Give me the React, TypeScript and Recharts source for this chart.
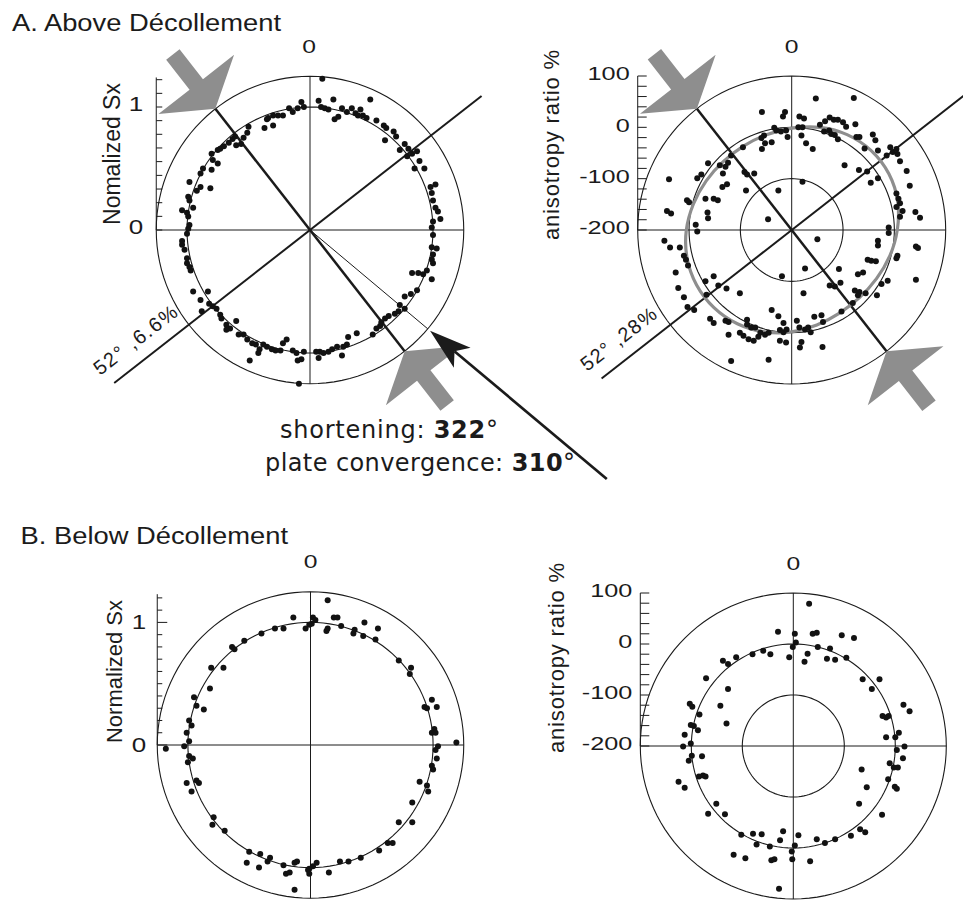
import React from 'react';
import { ScatterChart, Scatter, XAxis, YAxis, ReferenceLine } from 'recharts';

type P = [number, number];

// Above décollement, normalized Sx: [east, north] components in % of normalized Sx
const aboveSxPts: P[] = [
  [10,123],[-7,104],[-5,100],[-10,99],[-17,99],[-14,96],[-22,93],[-26,93],[-30,93],[-34,91],[-35,90],[-30,85],[-37,83],[-50,84],
  [7,105],[9,100],[12,99],[15,98],[19,106],[20,90],[23,92],[26,99],[30,96],[34,99],[37,95],[41,98],[43,93],[46,91],[49,106],[39,93],
  [54,89],[60,85],[62,83],[61,73],[68,80],[70,76],[77,70],[80,66],[73,65],[83,62],[79,60],[87,64],[89,56],[85,50],[93,50],
  [98,35],[102,37],[99,30],[100,24],[102,18],[104,15],[106,9],[100,7],[99,2],[100,-4],[99,-14],[103,-15],[100,-20],[99,-24],[100,-27],[95,-33],[92,-36],[88,-35],[83,-35],[99,-40],
  [87,-49],[82,-52],[77,-54],[73,-61],[77,-64],[72,-66],[69,-68],[64,-70],[61,-72],[58,-75],[57,-78],[54,-80],[51,-85],[38,-84],[31,-87],[30,-93],[27,-95],[26,-102],[22,-95],[18,-97],[15,-99],[11,-100],[8,-99],[5,-99],[7,-104],
  [-5,-99],[-7,-105],[-11,-100],[-14,-98],[-10,-106],[-9,-125],[-19,-89],[-22,-92],[-24,-98],[-28,-98],[-31,-97],[-35,-95],[-38,-93],[-41,-97],[-42,-100],[-44,-93],[-47,-92],[-49,-106],[-51,-89],[-54,-85],[-58,-85],[-60,-74],[-65,-80],[-68,-81],[-68,-77],[-72,-72],[-73,-69],[-76,-64],[-79,-62],[-82,-60],[-83,-50],[-88,-66],[-89,-57],[-95,-50],
  [-97,-33],[-98,-30],[-100,-27],[-100,-23],[-102,-16],[-104,-12],[-104,-9],[-100,-3],[-99,1],[-98,4],[-99,11],[-100,14],[-104,16],[-95,18],[-98,24],[-99,27],[-98,39],[-92,32],[-89,35],[-81,34],[-89,46],[-87,50],[-80,49],[-79,57],[-75,54],[-80,62],[-75,65],[-73,66],[-70,68],[-66,71],[-63,74],[-61,76],[-60,69],[-56,70],[-54,75],[-51,79],
];

// Above décollement, anisotropy: [east, north] components of (ratio % + 200)
const aboveAniPts: P[] = [
  [47,256],[121,257],[-58,230],[-13,230],[-17,221],[15,221],[24,217],[74,219],[55,205],[65,212],[82,215],[90,215],[100,210],[106,201],[124,206],[-34,199],[-30,194],[-21,192],[-11,194],[13,200],[21,200],[63,192],[73,194],[77,187],[84,185],[19,184],[-8,181],[90,177],[126,181],[132,181],[158,186],[163,175],[-54,184],[-59,179],[-52,169],[-39,171],[-58,158],[28,169],[41,158],[142,159],[168,155],[192,161],[197,152],[206,148],[204,158],
  [-95,161],[-124,131],[-129,123],[-140,126],[-163,130],[-118,145],[103,126],[131,117],[147,114],[211,134],[224,115],[185,145],[-239,99],[-184,101],[-176,108],[-134,110],[-92,113],[-87,108],[-73,110],[-126,89],[-135,84],[154,92],[168,101],[230,86],[21,94],[-89,77],[-26,77],[-152,61],[-144,58],[-168,61],[-204,58],[-200,54],[204,71],[208,61],[211,52],[-243,37],[-235,32],[-164,34],[-163,23],[-46,21],[-187,10],[-184,-3],[204,45],[216,37],[211,26],[241,35],[250,24],[189,5],
  [-248,-21],[-237,-34],[-218,-34],[-210,-50],[-206,-58],[-202,-69],[50,-18],[168,-21],[168,-30],[189,-6],[242,-32],[246,-35],[206,-50],[204,-55],[148,-58],[155,-60],[164,-61],[-226,-83],[-152,-90],[-168,-100],[26,-75],[-19,-90],[92,-76],[129,-86],[139,-83],[242,-97],[187,-99],[175,-105],[-221,-113],[-143,-108],[-127,-114],[-101,-123],[-166,-126],[23,-123],[74,-108],[84,-110],[95,-103],[123,-118],[132,-121],[144,-123],[129,-127],[166,-127],[-210,-131],[-203,-150],[-190,-156],[119,-142],[-39,-156],[-26,-168],[97,-159],[44,-169],[58,-166],[61,-179],[-159,-173],[-152,-181],[-129,-177],[-123,-179],[-87,-175],[-16,-181],[10,-177],[-87,-184],[-79,-190],[-71,-190],[-61,-200],[-52,-204],[-65,-208],[-101,-200],[-94,-206],[-123,-204],[-84,-213],[-74,-216],[-45,-200],[-23,-195],[-16,-199],[-10,-194],[-23,-216],[-11,-219],[15,-190],[26,-194],[32,-190],[37,-199],[19,-218],[16,-229],[60,-228],[-118,-255],[-45,-253],
];

// Below décollement, normalized Sx: [east, north] in % of normalized Sx
const belowSxPts: P[] = [
  [14,118],[2,104],[4,102],[1,99],[-1,98],[-4,95],[-14,104],[-22,95],[-29,95],[-40,91],[-54,85],[-64,80],[-62,78],[13,93],[14,95],[19,104],[22,104],[25,97],[36,94],[35,91],[43,89],[44,100],[53,86],[55,95],[72,69],[82,63],[81,58],[-81,63],[-71,63],[-82,46],[-95,39],[-93,32],[-87,29],
  [99,37],[93,31],[95,30],[103,31],[101,13],[99,10],[102,10],[119,2],[104,-1],[102,-4],[103,-11],[99,-17],[100,-20],[89,-30],[95,-33],[96,-38],
  [-99,20],[-97,16],[-101,10],[-99,3],[-103,-1],[-118,-3],[-99,-9],[-96,-11],[-100,-14],[-101,-31],[-93,-29],[-91,-31],[-97,-38],
  [83,-47],[72,-63],[83,-63],[63,-80],[67,-80],[56,-86],[41,-92],[31,-95],[24,-95],[5,-96],[2,-99],
  [-79,-59],[-80,-65],[-70,-70],[-50,-87],[-41,-89],[-33,-92],[-35,-95],[-52,-96],[-42,-100],[-22,-98],[-13,-96],[-11,-95],[-20,-105],[-17,-104],[-13,-118],[-1,-101],[-2,-102],[-1,-105],[15,-104],
];

// Below décollement, anisotropy: [east, north] components of (ratio % + 200)
const belowAniPts: P[] = [
  [31,279],[-30,224],[3,220],[5,203],[-1,194],[38,220],[46,222],[95,217],[119,212],[48,194],[72,191],[28,181],[22,165],[-8,174],[-45,180],[-59,187],[-80,180],[-112,174],[-138,167],[-128,161],[66,171],[82,169],[104,173],
  [-171,133],[-128,112],[136,131],[169,131],[154,112],[-203,83],[-198,77],[-184,62],[-143,79],[216,81],[228,68],[-201,41],[-195,39],[-131,44],[-187,31],[-213,22],[175,59],[182,56],[187,59],[207,26],[200,17],[182,17],
  [-216,-1],[-201,5],[218,-1],[203,-8],[-199,-19],[-179,-20],[-205,-29],[215,-24],[189,-34],[197,-42],[205,-42],[-185,-60],[-177,-58],[-172,-60],[134,-46],[186,-65],[199,-80],[203,-84],[-225,-70],[-213,-82],[144,-81],
  [-151,-113],[-167,-133],[-134,-134],[129,-113],[174,-135],[-102,-174],[-79,-172],[-62,-173],[-20,-167],[10,-175],[-72,-193],[-46,-197],[-26,-185],[3,-195],[-3,-207],[46,-183],[62,-190],[82,-183],[113,-176],[131,-163],[141,-169],[-117,-213],[-94,-220],[-43,-224],[-37,-222],[-2,-222],[33,-226],[-28,-280],
];

// Fitted anisotropy curve (above décollement): azimuth (deg) and ratio %
const fitAzimuths = [0, 15, 30, 45, 60, 75, 90, 105, 120, 135, 150, 165, 180, 195, 210, 225, 240, 255, 270, 285, 300, 315, 330, 345];
const fitRatios = [0, 10, 18, 22, 22, 17, 8, 0, -8, -12, -12, -7, 1, 8, 14, 17, 17, 14, 8, 0, -6, -10, -10, -6];

// Tick values
const sxTicksAbove = [0, 0.111, 0.222, 0.333, 0.444, 0.556, 0.667, 0.778, 0.889, 1, 1.111, 1.222];
const sxTicksBelow = [0, 0.1, 0.2, 0.3, 0.4, 0.5, 0.6, 0.7, 0.8, 0.9, 1, 1.1, 1.2];
const sxTickLabels = [0, 1];
const aniTicks = [100, 80, 60, 40, 20, 0, -20, -40, -60, -80, -100, -120, -140, -160, -180, -200];
const aniTickLabels = [100, 0, -100, -200];

// Directions (azimuth, degrees)
const shorteningAz = 322;
const convergenceAz = 310;
const anisoAxisAz = 52;

const SANS = '"Liberation Sans", Arial, Helvetica, sans-serif';
const INK = '#1b1b1b';
const GRAY = '#8e8e8e';
const Y_W = 40;

const rad = (d: number) => (d * Math.PI) / 180;
const polar = (az: number, r: number) => ({ x: r * Math.sin(rad(az)), y: r * Math.cos(rad(az)) });
const ringPoints = (r: number) => Array.from({ length: 120 }, (_, i) => polar(i * 3, r));

const Dot = (p: any) => <circle cx={p.cx} cy={p.cy} r={3} fill="#121212" />;
const NoShape = () => <g />;

const GRAY_ARROW: P[] = [[0, 0], [31, 48], [31, 8.5], [69, 8.5], [69, -8.5], [31, -8.5], [31, -48]];
const BLACK_HEAD: P[] = [[0, 0], [42, 13], [32, 0], [42, -13]];

function arrowShape(az: number, outline: P[], fill: string) {
  const U = [Math.sin(rad(az)), -Math.cos(rad(az))];
  const V = [Math.cos(rad(az)), Math.sin(rad(az))];
  return (p: any) => {
    const pts = outline
      .map(([u, v]) => `${p.cx + u * U[0] + v * V[0]},${p.cy + u * U[1] + v * V[1]}`)
      .join(' ');
    return <polygon points={pts} fill={fill} />;
  };
}

function ring(key: string, r: number, stroke = INK, width = 1.1, type: any = 'linearClosed', data?: any[]) {
  return (
    <Scatter
      key={key}
      data={data || ringPoints(r)}
      shape={NoShape}
      line={{ stroke, strokeWidth: width, fill: 'none' }}
      lineJointType={type}
      isAnimationActive={false}
    />
  );
}

function seg(key: string, a: any, b: any, width: number, color = INK) {
  return <ReferenceLine key={key} segment={[a, b]} stroke={color} strokeWidth={width} ifOverflow="visible" />;
}

function arrow(key: string, az: number, r: number, outline: P[], fill: string) {
  return <Scatter key={key} data={[polar(az, r)]} shape={arrowShape(az, outline, fill)} isAnimationActive={false} />;
}

function dots(key: string, pts: P[], k: number) {
  return <Scatter key={key} data={pts.map(([e, n]) => ({ x: e * k, y: n * k }))} shape={Dot} isAnimationActive={false} />;
}

function makeTick(o: { labels: number[]; toLabel: (v: number) => number; minor: number; major: number; gap: number; dy: number; sx: number; fs: number }) {
  return (props: any) => {
    const { x, y, payload } = props;
    const v = o.toLabel(payload.value);
    const isLab = o.labels.some((l) => Math.abs(l - v) < 1e-6);
    return (
      <g>
        <line x1={x} y1={y} x2={x + (isLab ? o.major : o.minor)} y2={y} stroke={INK} strokeWidth={1} />
        {isLab && (
          <text
            transform={`translate(${x - o.gap},${y + o.dy}) scale(${o.sx},1)`}
            textAnchor="end"
            dominantBaseline="central"
            fontSize={o.fs}
            fontFamily={SANS}
            fill={INK}
          >
            {String(Math.round(v))}
          </text>
        )}
      </g>
    );
  };
}

type Frame = { left: number; top: number; width: number; height: number; cx: number; cy: number; ppu: number; R: number };

function Panel({ f, ticks, tick, children }: { f: Frame; ticks: number[]; tick: any; children: any }) {
  const half = f.R * f.ppu;
  const plotLeft = f.cx - half - f.left;
  const plotTop = f.cy - half - f.top;
  const margin = {
    left: plotLeft - Y_W,
    top: plotTop,
    right: f.width - plotLeft - 2 * half,
    bottom: f.height - plotTop - 2 * half,
  };
  return (
    <div style={{ position: 'absolute', left: f.left, top: f.top, width: f.width, height: f.height }}>
      <ScatterChart width={f.width} height={f.height} margin={margin}>
        <XAxis type="number" dataKey="x" domain={[-f.R, f.R]} hide />
        <YAxis
          type="number"
          dataKey="y"
          domain={[-f.R, f.R]}
          ticks={ticks}
          interval={0}
          tick={tick}
          tickSize={0}
          tickMargin={0}
          axisLine={false}
          tickLine={false}
          width={Y_W}
        />
        {children}
      </ScatterChart>
    </div>
  );
}

const fA: Frame = { left: 0, top: 0, width: 620, height: 500, cx: 310, cy: 230, ppu: 123, R: 1.25 };
const fB: Frame = { left: 480, top: 0, width: 483, height: 430, cx: 791.7, cy: 230, ppu: 0.5133, R: 300 };
const fC: Frame = { left: 0, top: 560, width: 480, height: 341, cx: 310.5, cy: 745, ppu: 122.6, R: 1.25 };
const fD: Frame = { left: 480, top: 560, width: 483, height: 341, cx: 793.3, cy: 746, ppu: 0.51, R: 300 };

export default function App() {
  const back = convergenceAz - 180;
  const sBack = shorteningAz - 180;
  const fitData = fitAzimuths.map((az, i) => polar(az, fitRatios[i] + 200));

  const sxTickA = makeTick({ labels: sxTickLabels, toLabel: (v) => v, minor: 6, major: 6, gap: 13, dy: -3, sx: 1.3, fs: 20 });
  const sxTickB = makeTick({ labels: sxTickLabels, toLabel: (v) => v, minor: 5, major: 10, gap: 11, dy: 0, sx: 1.3, fs: 20 });
  const aniTick = makeTick({ labels: aniTickLabels, toLabel: (r) => r - 200, minor: 9, major: 9, gap: 8, dy: -2, sx: 1.33, fs: 19 });
  const aniTickPos = aniTicks.map((v) => v + 200);

  return (
    <div style={{ position: 'absolute', left: 0, top: 0, width: 963, height: 901, background: '#fff', overflow: 'hidden' }}>
      <Panel f={fA} ticks={sxTicksAbove} tick={sxTickA}>
        {[
          ring('ro', 1.25),
          ring('r1', 1),
          seg('h', { x: -1.25, y: 0 }, { x: 1.25, y: 0 }, 1),
          seg('v', { x: 0, y: -1.25 }, { x: 0, y: 1.25 }, 1),
          seg('ax', { x: -1.25, y: 0 }, { x: -1.25, y: 1.24 }, 1),
          seg('conv', { x: 0, y: 0 }, polar(back, 1.25), 1),
          seg('s', polar(shorteningAz, 1.25), polar(sBack, 1.25), 2.5),
          seg('a52', polar(anisoAxisAz + 180, 2.02), polar(anisoAxisAz, 1.77), 2),
          seg('convArrow', polar(back, 1.52), polar(back, 3.15), 2.7),
          dots('pts', aboveSxPts, 0.01),
          arrow('g1', shorteningAz, 1.25, GRAY_ARROW, GRAY),
          arrow('g2', sBack, 1.25, GRAY_ARROW, GRAY),
          arrow('bh', back, 1.274, BLACK_HEAD, INK),
        ]}
      </Panel>
      <Panel f={fB} ticks={aniTickPos} tick={aniTick}>
        {[
          ring('ro', 300),
          ring('r2', 200),
          ring('r1', 100),
          seg('h', { x: -300, y: 0 }, { x: 300, y: 0 }, 1),
          seg('v', { x: 0, y: -300 }, { x: 0, y: 300 }, 1),
          seg('ax', { x: -300, y: 0 }, { x: -300, y: 300 }, 1),
          seg('s', polar(shorteningAz, 300), polar(sBack, 300), 2.5),
          seg('a52', polar(anisoAxisAz + 180, 470), polar(anisoAxisAz, 425), 2),
          ring('fit', 0, GRAY, 3.2, 'basisClosed', fitData),
          dots('pts', aboveAniPts, 1),
          arrow('g1', shorteningAz, 300, GRAY_ARROW, GRAY),
          arrow('g2', sBack, 300, GRAY_ARROW, GRAY),
        ]}
      </Panel>
      <Panel f={fC} ticks={sxTicksBelow} tick={sxTickB}>
        {[
          ring('ro', 1.25),
          ring('r1', 1),
          seg('h', { x: -1.25, y: 0 }, { x: 1.25, y: 0 }, 1),
          seg('v', { x: 0, y: -1.25 }, { x: 0, y: 1.25 }, 1),
          seg('ax', { x: -1.25, y: 0 }, { x: -1.25, y: 1.23 }, 1),
          dots('pts', belowSxPts, 0.01),
        ]}
      </Panel>
      <Panel f={fD} ticks={aniTickPos} tick={aniTick}>
        {[
          ring('ro', 300),
          ring('r2', 200),
          ring('r1', 100),
          seg('h', { x: -300, y: 0 }, { x: 300, y: 0 }, 1),
          seg('v', { x: 0, y: -300 }, { x: 0, y: 300 }, 1),
          seg('ax', { x: -300, y: 0 }, { x: -300, y: 300 }, 1),
          dots('pts', belowAniPts, 1),
        ]}
      </Panel>

      <svg width={963} height={901} style={{ position: 'absolute', left: 0, top: 0, pointerEvents: 'none' }}>
        <g fontFamily={SANS} fill={INK}>
          <text transform="translate(12,31) scale(1.14,1)" fontSize={24}>A. Above Décollement</text>
          <text transform="translate(20.5,544) scale(1.14,1)" fontSize={24}>B. Below Décollement</text>

          <text transform="translate(309,53) scale(1.3,1)" fontSize={19} textAnchor="middle">0</text>
          <text transform="translate(791.7,52.7) scale(1.3,1)" fontSize={19} textAnchor="middle">0</text>
          <text transform="translate(310.7,568.3) scale(1.3,1)" fontSize={19} textAnchor="middle">0</text>
          <text transform="translate(793.3,570) scale(1.3,1)" fontSize={19} textAnchor="middle">0</text>

          <text transform="translate(120,154) rotate(-90)" fontSize={23} textAnchor="middle">Nomalized Sx</text>
          <text transform="translate(121.5,671.5) rotate(-90)" fontSize={22} textAnchor="middle">Normalized Sx</text>
          <text transform="translate(559,145) rotate(-90)" fontSize={22} textAnchor="middle" textLength={190}>anisotropy ratio %</text>
          <text transform="translate(564,658) rotate(-90)" fontSize={22} textAnchor="middle" textLength={190}>anisotropy ratio %</text>

          <text transform="translate(100,376) rotate(-37.7)" fontSize={20} textLength={100}>52° ,6.6%</text>
          <text transform="translate(587,372) rotate(-37.7)" fontSize={20} textLength={90}>52° ,28%</text>
        </g>
        <g fontFamily='"DejaVu Sans", sans-serif' fill={INK} fontSize={24}>
          <text x={280} y={438} textLength={218}>
            shortening: <tspan fontWeight="bold">322</tspan>°
          </text>
          <text x={265} y={471} textLength={310}>
            plate convergence: <tspan fontWeight="bold">310</tspan>°
          </text>
        </g>
      </svg>
    </div>
  );
}
